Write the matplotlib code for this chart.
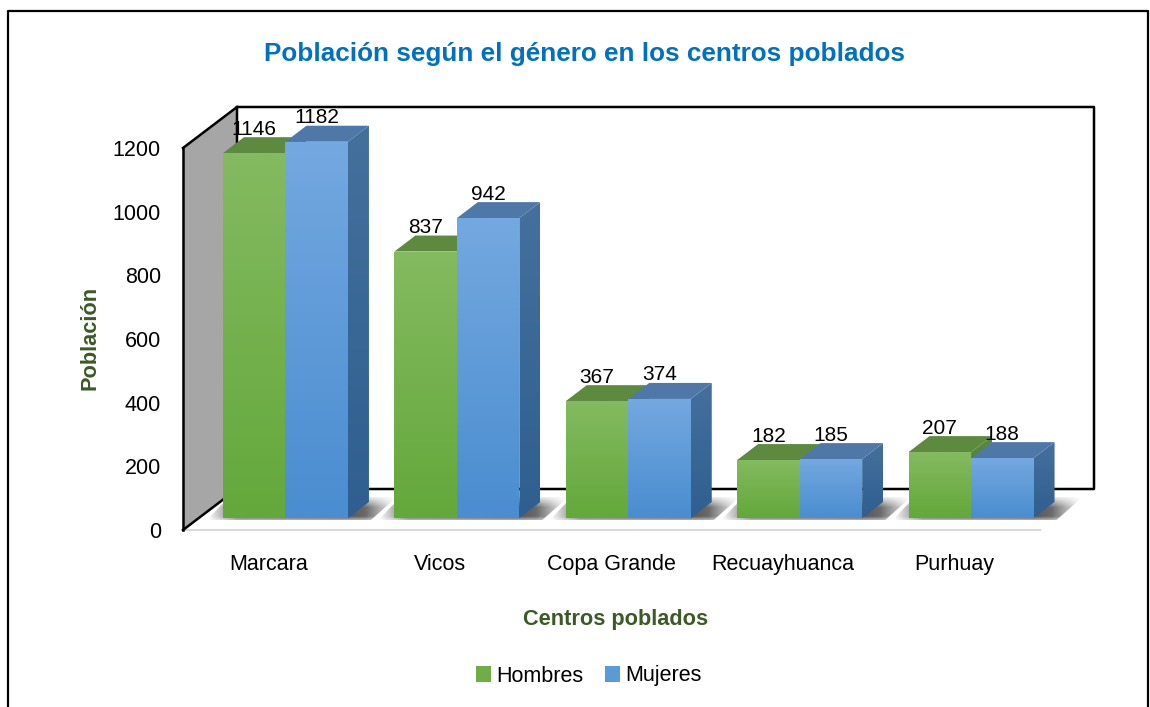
import numpy as np
import matplotlib
matplotlib.use('Agg')
import matplotlib.pyplot as plt
from matplotlib.colors import to_rgb
from matplotlib.lines import Line2D
from matplotlib.patches import Patch, Polygon

plt.rcParams['font.family'] = ['Liberation Sans']

categories = ['Marcara', 'Vicos', 'Copa Grande', 'Recuayhuanca', 'Purhuay']
hombres = [1146, 837, 367, 182, 207]
mujeres = [1182, 942, 374, 185, 188]
y_ticks = [0, 200, 400, 600, 800, 1000, 1200]

W, H = 1150, 707
left, right, bottom, top = 183, 1040, 530, 148
PX = (right - left) / 5          # pixels per category
PY = (bottom - top) / 1200       # pixels per unit

fig = plt.figure(figsize=(W / 100, H / 100), dpi=100)
ax = fig.add_axes([left / W, 1 - bottom / H, (right - left) / W, (bottom - top) / H])


def grad(points, c1, c2, z):
    # polygon filled with a gradient from c1 (top) to c2 (bottom)
    pts = np.array(points)
    t = np.linspace(0, 1, 64)[:, None, None]
    img = (1 - t) * np.array(to_rgb(c1)) + t * np.array(to_rgb(c2))
    poly = Polygon(pts, closed=True, fc='none', ec='none', zorder=z, clip_on=False)
    ax.add_patch(poly)
    im = ax.imshow(img, extent=[pts[:, 0].min(), pts[:, 0].max(), pts[:, 1].min(), pts[:, 1].max()],
                   origin='upper', aspect='auto', zorder=z, interpolation='bilinear')
    im.set_clip_box(fig.bbox)
    im.set_clip_path(poly)


def shadow(x0, x1, z):
    # soft floor shadow behind a pair of bars
    ylo, yhi = 10 / PY, 33 / PY
    x_a, x_b = x0 - 16 / PX, x1 + 49 / PX
    poly = Polygon([(x_a, ylo), (x_a + 22 / PX, yhi), (x_b, yhi), (x_b - 26 / PX, ylo)],
                   closed=True, fc='none', ec='none', zorder=z, clip_on=False)
    ax.add_patch(poly)
    xs = np.linspace(x_a, x_b, 200)
    ramp = np.interp(xs, [x_a, x_a + 30 / PX, x1, x1 + 18 / PX, x_b], [0, 0.75, 0.85, 0.75, 0])
    vert = np.interp(np.linspace(0, 1, 40), [0, 0.45, 0.85, 1], [0.15, 1, 1, 0.5])[:, None]
    img = np.zeros((40, 200, 4))
    img[..., :3] = 0.22
    img[..., 3] = vert * ramp[None, :]
    im = ax.imshow(img, extent=[x_a, x_b, ylo, yhi], origin='upper', aspect='auto', zorder=z)
    im.set_clip_box(fig.bbox)
    im.set_clip_path(poly)


# chart walls
wx, wy = 54 / PX, 41 / PY
x_l, x_r = -0.5, 4.5
ymax = y_ticks[-1]
ax.add_patch(Polygon([(x_l, 0), (x_l + wx, wy), (x_l + wx, ymax + wy), (x_l, ymax)],
                     closed=True, fc='#a6a6a6', ec='none', zorder=1, clip_on=False))
kw = dict(color='black', lw=1.8, clip_on=False, zorder=2, solid_capstyle='projecting')
ax.plot([x_l, x_l + wx, x_r + wx, x_r + wx, x_l + wx, x_l + wx],
        [ymax, ymax + wy, ymax + wy, wy, wy, ymax + wy], **kw)
ax.plot([x_l, x_l], [0, ymax], **kw)
ax.plot([x_l, x_l + wx], [0, wy], **kw)
ax.plot([x_l, x_r], [0, 0], color='#d9d9d9', lw=1.5, zorder=1.5, clip_on=False)

# bars
w = 62.5 / PX
sx, sy = 16.75 / PX, 12 / PY     # bars stand inside the floor
dx, dy = 21 / PX, 16 / PY        # bar depth
x = np.arange(len(categories))

green = dict(front=('#84ba60', '#64a83b'), side=('#5b8a3c', '#46752c'), top='#5e8a40')
blue = dict(front=('#74a8e0', '#4a8dd0'), side=('#44709c', '#2f5f90'), top='#4f78a8')

for i in x:
    c = x[i] + sx
    shadow(c - w, c + w, 3)
    z = 4 + i
    for l, val, st, off in ((c - w, hombres[i], green, 0), (c, mujeres[i], blue, 0.5)):
        r = l + w
        t = val + sy
        grad([(r, sy), (r + dx, sy + dy), (r + dx, t + dy), (r, t)], *st['side'], z + off)
        ax.add_patch(Polygon([(l, t), (l + dx, t + dy), (r + dx, t + dy), (r, t)], closed=True,
                             fc=st['top'], ec='none', zorder=z + off, clip_on=False))
        ax.bar(l + w / 2, val, w, bottom=sy, color='none', zorder=z + off)
        grad([(l, sy), (r, sy), (r, t), (l, t)], *st['front'], z + off + 0.1)
        ax.annotate(str(val), (l + w / 2, t), xytext=(0, 17.3), textcoords='offset points',
                    ha='center', va='center', fontsize=15, color='black', zorder=20,
                    annotation_clip=False)

ax.set_xlim(x_l, x_r)
ax.set_ylim(0, ymax)
for s in ax.spines.values():
    s.set_visible(False)
ax.set_xticks(x, categories)
ax.set_yticks(y_ticks)
ax.tick_params(axis='both', length=0, labelsize=15.5)
ax.tick_params(axis='x', pad=17.5)
ax.tick_params(axis='y', pad=16)

fig.text(584 / W, 1 - 54 / H, 'Población según el género en los centros poblados', color='#0070c0',
         fontsize=18.85, fontweight='bold', ha='center', va='center')
fig.text(90 / W, 1 - 338 / H, 'Población', color='#3b5a26', fontsize=15.7, fontweight='bold',
         rotation=90, ha='center', va='center')
fig.text(616 / W, 1 - 619 / H, 'Centros poblados', color='#3b5a26', fontsize=15.7, fontweight='bold',
         ha='center', va='center')

handles = [Patch(fc='#71ad47', label='Hombres'), Patch(fc='#5b9bd5', label='Mujeres')]
fig.legend(handles=handles, ncol=2, frameon=False, loc='center', bbox_to_anchor=(588.5 / W, 1 - 676 / H),
           fontsize=15.5, handlelength=0.7, handleheight=0.7, handletextpad=0.25, columnspacing=1.0)

# outer frame, cut off at the bottom
fig.add_artist(Line2D([8 / W, 8 / W, 1148 / W, 1148 / W], [0, 1 - 11 / H, 1 - 11 / H, 0],
                      color='black', lw=1.6))

fig.savefig('out.png', dpi=100)
